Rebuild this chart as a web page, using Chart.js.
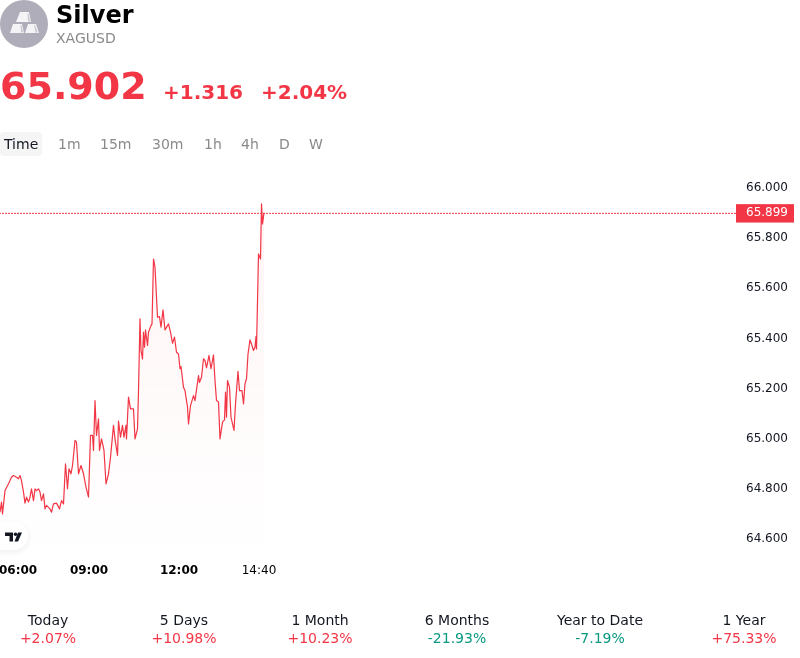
<!DOCTYPE html>
<html>
<head>
<meta charset="utf-8">
<title>Silver</title>
<script src="https://cdn.jsdelivr.net/npm/chart.js@4"></script>
<style>
  html, body { margin: 0; padding: 0; background: #fff; }
  body { width: 800px; height: 658px; position: relative; overflow: hidden; font-family: "DejaVu Sans", sans-serif; color: #131722; }
  .abs { position: absolute; white-space: nowrap; line-height: 1; will-change: transform; }
  .red { color: #f23645; }
  .green { color: #089981; }
  .tab { top: 137px; font-size: 14px; color: #8a8a8a; }
  .stat { width: 140px; text-align: center; font-size: 14px; }
  #wrap { position: absolute; left: -1px; top: 172px; width: 801px; height: 417px; }
  #logo { position: absolute; left: -12px; top: 522px; width: 40px; height: 28px; border-radius: 14px; background: #fff; box-shadow: 0 2px 6px rgba(0,0,0,.07); }
</style>
</head>
<body>

<svg class="abs" style="left:0;top:0" width="48" height="48" viewBox="0 0 48 48">
  <circle cx="24" cy="24" r="24" fill="#aeadb9"/>
  <path d="M20 12h9l2 10H16z M13 24h9l2 9H10z M28 24h8l3 9H25z" fill="#f4f4f6"/>
  <path d="M27.5 13.5h1l1.6 8h-2z M20.5 25h1l1.6 7.5h-2z M34 25h1l2.6 7.5h-2z" fill="#c9c8d1"/>
</svg>
<div class="abs" style="left:56px;top:3px;font-size:24px;font-weight:bold;color:#000">Silver</div>
<div class="abs" style="left:56px;top:31px;font-size:14px;color:#8a8a8a">XAGUSD</div>
<div class="abs red" style="left:0;top:67px;font-size:38px;font-weight:bold">65.902</div>
<div class="abs red" style="left:163px;top:82px;font-size:20px;font-weight:bold">+1.316</div>
<div class="abs red" style="left:261px;top:82px;font-size:20px;font-weight:bold">+2.04%</div>

<div class="abs" style="left:0;top:132px;width:42px;height:24px;background:#f5f5f5;border-radius:4px"></div>
<div class="abs" style="left:4px;top:137px;font-size:14px">Time</div>
<div id="tabs"></div>

<div id="wrap"><canvas id="priceChart"></canvas></div>

<div id="logo"></div>
<svg class="abs" style="left:5px;top:532px" width="17" height="10" viewBox="0 0 17 10">
  <path d="M0 0.5h8v9H4.5V4H0z M13 0.5h4l-4 9H9.5z" fill="#131722"/>
  <circle cx="10.5" cy="2.3" r="1.8" fill="#131722"/>
</svg>

<div id="stats"></div>

<script>
// minutes of the day
var times = [362,365,367,372,379,385,389,395,399,402,405,409,412,415,419,422,425,429,432,435,439,442,445,449,452,455,462,465,469,475,481,485,489,493,497,500,504,507,512,515,519,524,529,534,539,543,547,549,552,555,559,561,565,570,574,579,583,589,592,597,599,603,607,610,614,615,619,623,629,632,637,639,642,644,647,649,651,653,657,659,664,666,669,672,677,681,684,688,692,699,703,707,711,715,719,722,724,729,732,737,739,743,749,752,759,761,765,769,772,775,780,784,789,792,795,799,802,807,811,813,815,817,821,824,830,833,838,841,846,849,852,855,858,862,865,869,872,874,875,879,883,885,887,890];
var prices = [64.707,64.747,64.700,64.793,64.820,64.846,64.853,64.846,64.840,64.853,64.833,64.787,64.743,64.767,64.747,64.767,64.800,64.753,64.800,64.793,64.800,64.787,64.753,64.780,64.720,64.734,64.720,64.707,64.740,64.743,64.720,64.753,64.740,64.900,64.800,64.880,64.860,64.893,64.993,64.986,64.860,64.893,64.860,64.807,64.767,65.013,65.013,64.953,65.152,65.013,65.079,64.953,64.999,64.953,64.820,64.860,64.926,65.053,64.999,64.933,65.070,65.006,65.053,65.006,65.053,64.999,65.166,65.119,65.119,64.999,65.039,65.192,65.478,65.352,65.318,65.425,65.365,65.434,65.372,65.425,65.451,65.458,65.717,65.684,65.485,65.487,65.445,65.514,65.434,65.458,65.425,65.381,65.405,65.345,65.338,65.279,65.288,65.205,65.192,65.126,65.059,65.132,65.172,65.152,65.252,65.225,65.245,65.319,65.312,65.283,65.332,65.279,65.334,65.232,65.152,65.146,64.999,65.066,65.075,65.186,65.086,65.232,65.206,65.086,65.033,65.139,65.269,65.192,65.192,65.139,65.219,65.239,65.338,65.394,65.378,65.352,65.365,65.408,65.358,65.737,65.717,65.937,65.857,65.902];
var lastPrice = 65.899;
var priceTicks = [64.6,64.8,65.0,65.2,65.4,65.6,65.8,66.0];
var timeTicks = [360,540,720,880];
var timeLabels = ["06:00","09:00","12:00","14:40"];
var tabNames = ["1m","15m","30m","1h","4h","D","W"];
var tabLefts = [58,100,152,204,241,279,309];
var statNames = ["Today","5 Days","1 Month","6 Months","Year to Date","1 Year"];
var statValues = ["+2.07%","+10.98%","+10.23%","-21.93%","-7.19%","+75.33%"];
var statCenters = [48,184,320,457,600,744];

var RED = "#f23645";
var X_MIN = 360, X_MAX = 1834;

tabNames.forEach(function (name, i) {
  var d = document.createElement("div");
  d.className = "abs tab";
  d.style.left = tabLefts[i] + "px";
  d.textContent = name;
  document.getElementById("tabs").appendChild(d);
});

statNames.forEach(function (name, i) {
  var a = document.createElement("div");
  a.className = "abs stat";
  a.style.left = (statCenters[i] - 70) + "px";
  a.style.top = "613px";
  a.textContent = name;
  var b = document.createElement("div");
  b.className = "abs stat " + (statValues[i].charAt(0) === "-" ? "green" : "red");
  b.style.left = (statCenters[i] - 70) + "px";
  b.style.top = "631px";
  b.textContent = statValues[i];
  document.getElementById("stats").appendChild(a);
  document.getElementById("stats").appendChild(b);
});

var points = times.map(function (t, i) { return { x: t, y: prices[i] }; });

new Chart(document.getElementById("priceChart"), {
  type: "line",
  data: {
    datasets: [
      {
        data: points,
        borderColor: RED,
        borderWidth: 1.2,
        borderJoinStyle: "round",
        pointRadius: 0,
        tension: 0,
        fill: "start",
        backgroundColor: function (ctx) {
          var area = ctx.chart.chartArea;
          if (!area) return "transparent";
          var g = ctx.chart.ctx.createLinearGradient(0, area.top, 0, area.bottom);
          g.addColorStop(0, "rgba(242,54,69,0.06)");
          g.addColorStop(1, "rgba(242,54,69,0)");
          return g;
        }
      },
      {
        data: [{ x: X_MIN, y: lastPrice }, { x: X_MAX, y: lastPrice }],
        borderColor: RED,
        borderWidth: 1,
        borderDash: [2, 1],
        pointRadius: 0,
        fill: false
      }
    ]
  },
  options: {
    responsive: true,
    maintainAspectRatio: false,
    animation: false,
    layout: { padding: 0 },
    plugins: { legend: { display: false }, tooltip: { enabled: false } },
    scales: {
      x: {
        type: "linear",
        min: X_MIN,
        max: X_MAX,
        grid: { display: false, drawTicks: false },
        border: { display: false },
        afterBuildTicks: function (axis) {
          axis.ticks = timeTicks.concat([X_MAX]).map(function (v) { return { value: v }; });
        },
        afterFit: function (axis) {
          axis.height = 34;
          axis.paddingLeft = 0;
          axis.paddingRight = 0;
        },
        ticks: {
          autoSkip: false,
          maxRotation: 0,
          align: "inner",
          padding: 9,
          color: "#000",
          font: function (ctx) {
            var isLast = ctx.tick && ctx.tick.value === 880;
            return { family: "DejaVu Sans", size: 12, weight: isLast ? "normal" : "bold" };
          },
          callback: function (value) {
            var i = timeTicks.indexOf(value);
            return i < 0 ? "" : timeLabels[i];
          }
        }
      },
      y: {
        position: "right",
        min: 64.536,
        max: 66.064,
        grid: { display: false, drawTicks: false },
        border: { display: false },
        afterBuildTicks: function (axis) {
          axis.ticks = priceTicks.concat([lastPrice]).map(function (v) { return { value: v }; });
        },
        afterFit: function (axis) {
          axis.width = 64;
          axis.paddingTop = 0;
          axis.paddingBottom = 0;
        },
        ticks: {
          autoSkip: false,
          padding: 10,
          crossAlign: "near",
          font: { family: "DejaVu Sans", size: 12 },
          color: function (ctx) {
            return ctx.tick && ctx.tick.value === lastPrice ? "#fff" : "#131722";
          },
          showLabelBackdrop: function (ctx) {
            return !!ctx.tick && ctx.tick.value === lastPrice;
          },
          backdropColor: RED,
          backdropPadding: { left: 10, right: 6, top: 2, bottom: 2 },
          callback: function (value) { return value.toFixed(3); }
        }
      }
    }
  }
});
</script>
</body>
</html>
